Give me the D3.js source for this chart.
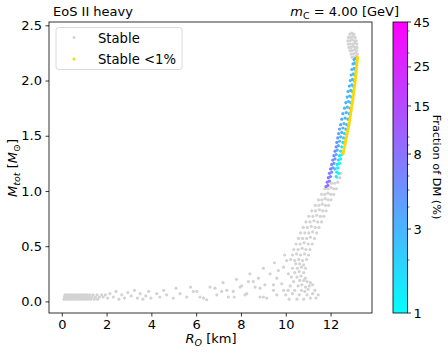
<!DOCTYPE html>
<html><head><meta charset="utf-8">
<script src="https://cdn.jsdelivr.net/npm/d3@7"></script>
<style>body{margin:0;background:#fff} svg{display:block} text{font-family:"DejaVu Sans",sans-serif;fill:#000}</style>
</head><body>
<svg id="chart" width="448" height="355"></svg>
<script>
const xTicks=[0,2,4,6,8,10,12];
const yTicks=[0,0.5,1,1.5,2,2.5];
const cbarTicks=[1,3,8,15,25,45];
const cbarMinor=[2,4,5,6,7,9,10,20,30,40];
const legendLabels=["Stable","Stable <1%"];

// grey: all stable configurations [R, M]
const greyStable=[
// low-mass strip
[0.10,0.02],[0.20,0.02],[0.30,0.02],[0.40,0.02],[0.50,0.02],[0.60,0.02],[0.70,0.02],[0.80,0.02],[0.90,0.02],[1.00,0.02],[1.10,0.02],[1.20,0.02],[1.30,0.02],[1.45,0.02],[1.60,0.02],
[0.12,0.04],[0.22,0.04],[0.32,0.04],[0.42,0.04],[0.52,0.04],[0.62,0.04],[0.72,0.04],[0.82,0.04],[0.92,0.04],[1.02,0.04],[1.12,0.04],[1.22,0.04],[1.35,0.04],[1.50,0.04],[1.68,0.04],[1.85,0.04],
[0.14,0.06],[0.24,0.06],[0.34,0.06],[0.44,0.06],[0.54,0.06],[0.64,0.06],[0.74,0.06],[0.84,0.06],[0.94,0.06],[1.04,0.06],[1.14,0.06],[1.26,0.06],[1.40,0.06],[1.58,0.06],[1.78,0.06],[1.95,0.06],
// scattered low region
[2.05,0.03],[2.15,0.07],[2.30,0.04],[2.42,0.09],[2.55,0.02],[2.68,0.06],[2.80,0.03],[2.95,0.08],[3.10,0.05],[3.25,0.10],[3.38,0.03],[3.50,0.07],[3.62,0.02],[3.75,0.05],[3.88,0.09],[3.98,0.03],
[4.24,0.07],[4.38,0.04],[4.55,0.10],[4.68,0.06],[4.98,0.03],[5.10,0.12],[5.28,0.07],[5.58,0.04],[5.75,0.13],[5.87,0.09],[6.03,0.09],[6.17,0.04],[6.33,0.03],[6.47,0.015],[6.62,0.13],[6.84,0.12],[6.92,0.06],
[7.14,0.09],[7.20,0.17],[7.37,0.10],[7.44,0.04],[7.66,0.09],[7.70,0.04],[7.80,0.20],[7.96,0.13],[8.03,0.14],[8.18,0.06],[8.26,0.07],[8.33,0.18],[8.40,0.25],[8.55,0.18],[8.63,0.13],[8.78,0.21],[8.85,0.04],[8.85,0.12],[9.00,0.04],
[9.00,0.30],[9.07,0.15],[9.15,0.03],[9.30,0.25],[9.45,0.10],[9.45,0.15],[9.50,0.35],[9.60,0.21],[9.60,0.06],[9.67,0.28],[9.82,0.16],[9.90,0.31],[9.90,0.10],[9.95,0.42],[10.04,0.37],[10.12,0.25],
// knee
[10.15,0.02],[10.50,0.02],[10.80,0.02],[11.10,0.03],[11.35,0.03],
[10.00,0.06],[10.30,0.07],[10.60,0.06],[10.95,0.06],[11.20,0.07],[11.45,0.06],
[10.10,0.10],[10.40,0.10],[10.70,0.10],[10.85,0.09],[11.00,0.11],[11.30,0.10],
[10.20,0.14],[10.55,0.14],[10.72,0.15],[10.88,0.13],[11.05,0.14],[11.20,0.15],
[10.35,0.18],[10.62,0.19],[10.80,0.19],[10.95,0.18],[11.10,0.17],
[10.25,0.22],[10.50,0.22],[10.68,0.23],[10.88,0.21],
[10.40,0.26],[10.60,0.27],[10.80,0.26],
[10.30,0.30],[10.52,0.30],[10.70,0.31],[10.88,0.30],
[10.45,0.34],[10.62,0.34],[10.80,0.33],
// rising band
[10.22,0.38],[10.40,0.37],[10.58,0.38],[10.75,0.37],[10.93,0.38],
[10.30,0.42],[10.48,0.43],[10.66,0.42],[10.84,0.43],[11.02,0.42],
[10.36,0.47],[10.55,0.47],[10.73,0.48],[10.90,0.47],[11.08,0.47],
[10.46,0.52],[10.64,0.52],[10.82,0.53],[11.00,0.52],[11.18,0.52],
[10.57,0.57],[10.75,0.57],[10.93,0.57],[11.10,0.58],[11.28,0.57],
[10.66,0.62],[10.85,0.62],[11.03,0.62],[11.20,0.63],[11.38,0.62],
[10.78,0.67],[10.96,0.67],[11.14,0.68],[11.31,0.67],[11.48,0.67],
[10.90,0.72],[11.08,0.72],[11.26,0.73],[11.43,0.72],[11.60,0.72],
[11.03,0.77],[11.21,0.77],[11.38,0.78],[11.54,0.77],[11.70,0.77],
[11.16,0.82],[11.33,0.82],[11.50,0.83],[11.65,0.82],[11.80,0.82],
[11.32,0.87],[11.48,0.87],[11.63,0.88],[11.77,0.87],[11.91,0.87],
[11.46,0.92],[11.61,0.92],[11.76,0.93],[11.89,0.92],[12.02,0.92],
[11.60,0.97],[11.74,0.97],[11.88,0.98],[12.01,0.97],[12.14,0.97],
[11.74,1.02],[11.88,1.02],[12.02,1.03],[12.14,1.02],[12.26,1.02],
[12.04,1.07],[12.18,1.07],[12.32,1.08],
[12.30,1.12],[12.42,1.12],[12.46,1.16],
// top blob
[12.86,2.42],[12.95,2.43],[13.04,2.42],
[12.80,2.39],[12.90,2.39],[13.00,2.40],[13.10,2.39],
[12.77,2.36],[12.87,2.36],[12.97,2.37],[13.07,2.36],[13.15,2.36],
[12.79,2.33],[12.89,2.33],[12.99,2.33],[13.09,2.34],[13.17,2.33],
[12.82,2.30],[12.92,2.30],[13.02,2.31],[13.12,2.30],[13.18,2.30],
[12.87,2.27],[12.97,2.27],[13.07,2.28],[13.17,2.27],
[12.92,2.24],[13.02,2.24],[13.12,2.25],[13.20,2.24],
[12.96,2.21],[13.06,2.21],[13.15,2.22]
];

// stable with DM fraction (%) [R, M, frac]
const dmStable=[
[11.80,1.04,9],[11.88,1.05,8],
[11.85,1.08,8],[11.95,1.09,7],
[11.90,1.12,8],[12.00,1.13,6],[12.25,1.13,1.2],
[11.95,1.16,7],[12.05,1.17,5],[12.28,1.17,1.3],[12.36,1.16,1.1],
[12.00,1.20,8],[12.10,1.21,5],[12.20,1.20,2],[12.32,1.21,1.2],
[12.05,1.24,7],[12.15,1.25,4],[12.30,1.24,1.5],[12.40,1.25,1.1],
[12.10,1.28,7],[12.20,1.29,4],[12.35,1.28,1.8],[12.45,1.29,1.2],
[12.15,1.32,6],[12.25,1.33,3.5],[12.40,1.32,1.6],[12.50,1.33,1.1],
[12.20,1.36,6],[12.30,1.37,3.5],[12.45,1.36,1.5],
[12.25,1.40,6],[12.35,1.41,3],[12.50,1.40,1.6],
[12.28,1.44,5],[12.40,1.45,3],[12.55,1.44,1.8],
[12.32,1.48,5],[12.45,1.49,3],[12.58,1.48,2],
[12.36,1.52,4.5],[12.50,1.53,3],[12.62,1.52,2.2],
[12.40,1.56,4],[12.55,1.57,3],[12.68,1.56,2.5],
[12.45,1.60,4],[12.60,1.61,3],[12.72,1.60,2.5],
[12.50,1.65,3.5],[12.65,1.66,3],[12.78,1.65,2.5],
[12.55,1.70,3.5],[12.70,1.71,3],[12.83,1.70,2.5],
[12.62,1.75,3],[12.75,1.76,3],[12.87,1.75,2.5],
[12.68,1.80,3],[12.80,1.81,2.8],[12.90,1.80,2.5],
[12.74,1.85,3],[12.85,1.86,2.8],[12.94,1.85,2.5],
[12.78,1.90,3],[12.90,1.91,2.8],[12.98,1.90,2.5],
[12.84,1.95,3],[12.95,1.96,2.8],[13.02,1.95,2.5],
[12.88,2.00,3],[12.98,2.01,2.8],[13.05,2.00,2.5],
[12.92,2.05,3],[13.02,2.06,2.8],[13.08,2.05,2.5],
[12.95,2.10,3],[13.05,2.11,2.8],[13.10,2.10,2.5],
[13.00,2.15,3],[13.08,2.16,2.8],[13.13,2.15,2.5],
[13.05,2.19,3],[13.12,2.20,2.8]
];

// stable with DM fraction < 1% [R, M]
const lowFracStable=[
[12.56,1.34],[12.58,1.36],[12.60,1.38],[12.62,1.40],[12.64,1.42],[12.66,1.44],[12.68,1.46],[12.70,1.48],[12.72,1.50],[12.74,1.52],
[12.76,1.54],[12.78,1.56],[12.80,1.58],[12.82,1.60],[12.84,1.62],[12.85,1.64],[12.87,1.66],[12.88,1.68],[12.90,1.70],[12.91,1.72],
[12.93,1.74],[12.94,1.76],[12.96,1.78],[12.97,1.80],[12.99,1.82],[13.00,1.84],[13.01,1.86],[13.03,1.88],[13.04,1.90],[13.05,1.92],
[13.06,1.94],[13.08,1.96],[13.09,1.98],[13.10,2.00],[13.11,2.02],[13.12,2.04],[13.13,2.06],[13.14,2.08],[13.15,2.10],[13.16,2.12],
[13.17,2.14],[13.18,2.16],[13.19,2.18],[13.20,2.20],[13.20,2.21]
];

const svg=d3.select("#chart");
const L=49,R=372,T=22,B=313;
const x=d3.scaleLinear().domain([-0.57,13.85]).range([L,R]);
const y=d3.scaleLinear().domain([-0.105,2.53]).range([B,T]);
const cPos=d3.scaleLog().domain([1,45]).range([B,T]);
const cCol=d3.scaleLog().domain([1,45]).range(["#00ffff","#ff00ff"]).interpolate(d3.interpolateRgb);
const grey="#d3d3d3", gold="#ffd700";

// points
const g=svg.append("g");
g.selectAll("circle.g").data(greyStable).join("circle").attr("class","g")
 .attr("cx",d=>x(d[0])).attr("cy",d=>y(d[1])).attr("r",1.6).attr("fill",grey);
g.selectAll("circle.dm").data(dmStable).join("circle").attr("class","dm")
 .attr("cx",d=>x(d[0])).attr("cy",d=>y(d[1])).attr("r",1.6).attr("fill",d=>cCol(d[2]));
g.selectAll("circle.lo").data(lowFracStable).join("circle").attr("class","lo")
 .attr("cx",d=>x(d[0])).attr("cy",d=>y(d[1])).attr("r",1.6).attr("fill",gold);

// axes
const xa=svg.append("g").attr("transform",`translate(0,${B})`)
 .call(d3.axisBottom(x).tickValues(xTicks).tickFormat(d3.format("d")).tickSize(3.5).tickPadding(3.5));
const ya=svg.append("g").attr("transform",`translate(${L},0)`)
 .call(d3.axisLeft(y).tickValues(yTicks).tickFormat(d3.format(".1f")).tickSize(3.5).tickPadding(3.5));
[xa,ya].forEach(a=>{a.select(".domain").remove();a.selectAll("text").attr("font-size",13).attr("font-family","DejaVu Sans").attr("fill","#000");a.selectAll("line").attr("stroke","#000").attr("stroke-width",0.8);});
svg.append("rect").attr("x",L).attr("y",T).attr("width",R-L).attr("height",B-T).attr("fill","none").attr("stroke","#000").attr("stroke-width",0.8);

// legend
const lg=svg.append("g");
lg.append("rect").attr("x",56).attr("y",27.5).attr("width",126).attr("height",42).attr("rx",2.5)
 .attr("fill","#fff").attr("fill-opacity",0.8).attr("stroke","#d0d0d0").attr("stroke-width",0.8);
lg.append("circle").attr("cx",74).attr("cy",37.5).attr("r",1.5).attr("fill",grey);
lg.append("circle").attr("cx",74).attr("cy",59).attr("r",1.5).attr("fill",gold);
lg.selectAll("text").data(legendLabels).join("text").attr("x",98).attr("y",(d,i)=>42.5+i*21.5)
 .attr("font-size",13.2).text(d=>d);

// titles
svg.append("text").attr("x",53).attr("y",16).attr("font-size",13).text("EoS II heavy");
const tr=svg.append("text").attr("x",399).attr("y",16).attr("font-size",13).attr("text-anchor","end");
tr.append("tspan").attr("font-style","italic").text("m");
tr.append("tspan").attr("font-size",9.5).attr("dy",2.5).text("C");
tr.append("tspan").attr("dy",-2.5).text(" = 4.00 [GeV]");

// axis labels
const xl=svg.append("text").attr("x",211).attr("y",343).attr("text-anchor","middle").attr("font-size",13);
xl.append("tspan").attr("font-style","italic").text("R");
xl.append("tspan").attr("font-style","italic").attr("font-size",9.5).attr("dy",2.5).text("O");
xl.append("tspan").attr("dy",-2.5).text(" [km]");
const yl=svg.append("text").attr("transform","translate(17,168) rotate(-90)").attr("text-anchor","middle").attr("font-size",13);
yl.append("tspan").attr("font-style","italic").text("M");
yl.append("tspan").attr("font-style","italic").attr("font-size",9.5).attr("dy",2.5).text("tot");
yl.append("tspan").attr("dy",-2.5).text(" [");
yl.append("tspan").attr("font-style","italic").text("M");
yl.append("tspan").attr("font-size",9.5).attr("dy",2.5).text("⊙");
yl.append("tspan").attr("dy",-2.5).text("]");

// colorbar
const CL=393,CW=14.5;
const defs=svg.append("defs");
const grad=defs.append("linearGradient").attr("id","cool").attr("x1",0).attr("y1",1).attr("x2",0).attr("y2",0);
grad.append("stop").attr("offset","0%").attr("stop-color","#00ffff");
grad.append("stop").attr("offset","100%").attr("stop-color","#ff00ff");
svg.append("rect").attr("x",CL).attr("y",T).attr("width",CW).attr("height",B-T).attr("fill","url(#cool)").attr("stroke","#000").attr("stroke-width",0.8);
const ca=svg.append("g").attr("transform",`translate(${CL+CW},0)`);
ca.selectAll("line.mn").data(cbarMinor).join("line").attr("class","mn")
 .attr("x1",0).attr("x2",2).attr("y1",d=>cPos(d)).attr("y2",d=>cPos(d)).attr("stroke","#000").attr("stroke-width",0.6);
ca.selectAll("line.mj").data(cbarTicks).join("line").attr("class","mj")
 .attr("x1",0).attr("x2",3.5).attr("y1",d=>cPos(d)).attr("y2",d=>cPos(d)).attr("stroke","#000").attr("stroke-width",0.8);
ca.selectAll("text").data(cbarTicks).join("text").attr("x",6).attr("y",d=>cPos(d)).attr("dy","0.35em")
 .attr("font-size",13).text(d=>d);
svg.append("text").attr("transform","translate(433,167) rotate(90)").attr("text-anchor","middle").attr("font-size",11.3).text("Fraction of DM (%)");
</script>
</body></html>
